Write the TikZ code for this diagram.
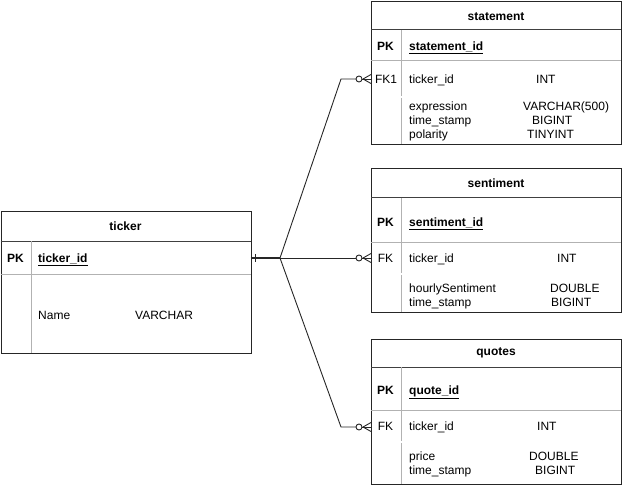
\documentclass[tikz,border=0pt]{standalone}
\usepackage{fontspec}
\setmainfont{Liberation Sans}
\begin{document}
\begin{tikzpicture}[x=1pt,y=-1pt,
  font=\fontsize{12}{14}\selectfont,
  tbox/.style={draw=black!85, line width=1pt, anchor=north west, inner sep=0pt, minimum width=250pt},
  tsep/.style={draw=black!75, line width=1pt},
  rsep/.style={draw=black!30, line width=1pt},
  txt/.style={anchor=base west, inner sep=0pt},
  ctr/.style={anchor=base, inner sep=0pt},
  bold/.style={anchor=base, inner sep=0pt, font=\fontsize{12}{14}\selectfont\bfseries},
  boldw/.style={anchor=base west, inner sep=0pt, font=\fontsize{12}{14}\selectfont\bfseries},
  conn/.style={draw=black!85, line width=0.9pt},
  zmany/.pic={
    \draw[black!85, line width=0.9pt] (-12,0) circle (3);
    \draw[black!85, line width=0.9pt] (-9,0) -- (0,0);
    \draw[black!85, line width=0.9pt] (-8,0) -- (0,-4.5);
    \draw[black!85, line width=0.9pt] (-8,0) -- (0,4.5);
  }
]
\useasboundingbox (0,0) rectangle (623,486);

% ---------- ticker ----------
\node[tbox, minimum height=142pt] (ticker) at (0.5,211) {};
\draw[tsep] (0.5,241) -- (250.5,241);
\draw[rsep] (0.5,274) -- (250.5,274);
\draw[rsep] (31,241) -- (31,353);
\node[bold] (tkt) at (125.5,231) {ticker};
\node[bold] (tkpkl) at (15.5,262.5) {PK};
\node[boldw] (tkpk) at (38,262.5) {\underline{ticker\_id}};
\node[txt] (tkname) at (38,319.5) {Name};
\node[txt] (tkvar) at (135,319.5) {VARCHAR};
\coordinate (tkE) at (250.5,258);

% ---------- statement ----------
\node[tbox, minimum height=143pt] (statement) at (371,1) {};
\draw[tsep] (371,30) -- (621,30);
\draw[rsep] (371,61) -- (621,61);
\draw[rsep] (401,30) -- (401,96);
\draw[rsep] (401,98) -- (401,144);
\node[bold] (stt) at (496,20.5) {statement};
\node[bold] (stpkl) at (385.5,50.5) {PK};
\node[boldw] (stpk) at (409,50.5) {\underline{statement\_id}};
\node[ctr] (stfkl) at (386,84) {FK1};
\node[txt] (stf1) at (409,84) {ticker\_id};
\node[txt] (stt1) at (536,84) {INT};
\node[txt] (stf2) at (409,110.5) {expression};
\node[txt] (stt2) at (523,110.5) {VARCHAR(500)};
\node[txt] (stf3) at (409,124.5) {time\_stamp};
\node[txt] (stt3) at (532,124.5) {BIGINT};
\node[txt] (stf4) at (409,138.5) {polarity};
\node[txt] (stt4) at (527,138.5) {TINYINT};
\coordinate (stW) at (371,79);

% ---------- sentiment ----------
\node[tbox, minimum height=144pt] (sentiment) at (371,168) {};
\draw[tsep] (371,198) -- (621,198);
\draw[rsep] (371,242) -- (621,242);
\draw[rsep] (401,198) -- (401,273);
\draw[rsep] (401,275) -- (401,312);
\node[bold] (set) at (496,187.5) {sentiment};
\node[bold] (sepkl) at (385.5,226) {PK};
\node[boldw] (sepk) at (409,226) {\underline{sentiment\_id}};
\node[ctr] (sefkl) at (385.5,262.5) {FK};
\node[txt] (sef1) at (409,262.5) {ticker\_id};
\node[txt] (set1) at (557,262.5) {INT};
\node[txt] (sef2) at (409,292) {hourlySentiment};
\node[txt] (set2) at (550,292) {DOUBLE};
\node[txt] (sef3) at (409,306) {time\_stamp};
\node[txt] (set3) at (551,306) {BIGINT};
\coordinate (seW) at (371,258);

% ---------- quotes ----------
\node[tbox, minimum height=145pt] (quotes) at (371,339) {};
\draw[tsep] (371,367) -- (621,367);
\draw[rsep] (371,410) -- (621,410);
\draw[rsep] (401,367) -- (401,441);
\draw[rsep] (401,443) -- (401,484);
\node[bold] (qut) at (496,355.5) {quotes};
\node[bold] (qupkl) at (385.5,394.5) {PK};
\node[boldw] (qupk) at (409,394.5) {\underline{quote\_id}};
\node[ctr] (qufkl) at (385.5,430.5) {FK};
\node[txt] (quf1) at (409,430.5) {ticker\_id};
\node[txt] (qut1) at (537,430.5) {INT};
\node[txt] (quf2) at (409,460.5) {price};
\node[txt] (qut2) at (529,460.5) {DOUBLE};
\node[txt] (quf3) at (409,474.5) {time\_stamp};
\node[txt] (qut3) at (535,474.5) {BIGINT};
\coordinate (quW) at (371,427);

% ---------- connectors ----------
\coordinate (j) at (280,258);
\coordinate (b1) at (341,79);
\coordinate (b3) at (341,427);
\draw[conn, line width=1.8pt] (tkE) -- (j);
\draw[conn] (255,254) -- (255,262);
\draw[conn] (j) -- (b1) -- ([xshift=-15pt]stW);
\draw[conn] (j) -- ([xshift=-15pt]seW);
\draw[conn] (j) -- (b3) -- ([xshift=-15pt]quW);
\pic at (stW) {zmany};
\pic at (seW) {zmany};
\pic at (quW) {zmany};
\end{tikzpicture}
\end{document}
